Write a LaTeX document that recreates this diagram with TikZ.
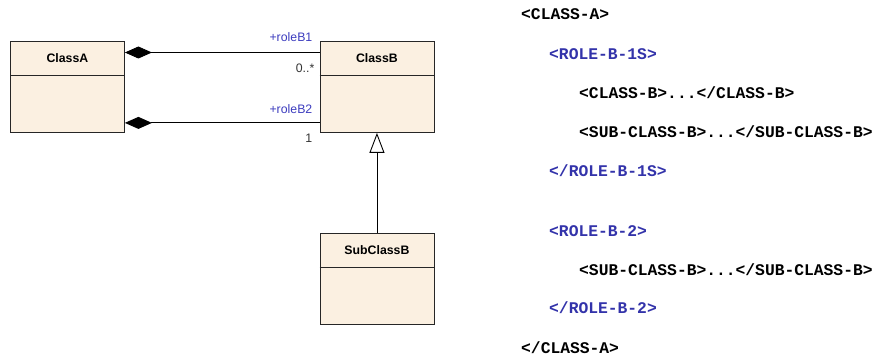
\documentclass[tikz,border=0pt]{standalone}
\usepackage{fontspec}
\setmainfont{Liberation Sans}
\newfontfamily\xmlfont{Liberation Mono}
\usepackage{xcolor}
\usepackage{tikz}
\usetikzlibrary{arrows.meta, positioning}

\definecolor{classfill}{RGB}{251,240,225}
\definecolor{roleblue}{RGB}{60,60,190}
\definecolor{tagblue}{RGB}{51,51,170}

\begin{document}
\begin{tikzpicture}[x=1pt, y=-1pt,
    umlclass/.style={rectangle, draw=black!85, fill=classfill, line width=0.9pt, minimum width=114pt, minimum height=90.5pt, inner sep=0pt},
    classname/.style={font=\fontsize{12.3}{14}\selectfont\bfseries},
    role/.style={font=\fontsize{12.3}{14}\selectfont, text=roleblue, inner sep=0pt},
    mult/.style={font=\fontsize{12.3}{14}\selectfont, text=black!80, inner sep=0pt},
    tag/.style={font=\fontsize{16.3}{18}\selectfont\xmlfont\bfseries, anchor=base west, inner sep=0pt},
    comp/.style={{Diamond[length=27pt, width=12pt]}-, line width=0.9pt},
    inherit/.style={-{Triangle[open, length=20pt, width=15pt]}, line width=0.9pt}]
    \useasboundingbox (0,0) rectangle (875,358);

    % Classes
    \node (classA) [umlclass, anchor=north west] at (10,41.5) {};
    \node (classB) [umlclass, anchor=north west] at (319.5,41.5) {};
    \node (subB) [umlclass, anchor=north west] at (319.5,233) {};

    \node [classname] at ([yshift=-17pt]classA.north) {ClassA};
    \node [classname] at ([yshift=-17pt]classB.north) {ClassB};
    \node [classname] at ([yshift=-17pt]subB.north) {SubClassB};

    \draw[line width=0.9pt, black!85] ([yshift=-34pt]classA.north west) -- ([yshift=-34pt]classA.north east);
    \draw[line width=0.9pt, black!85] ([yshift=-34pt]classB.north west) -- ([yshift=-34pt]classB.north east);
    \draw[line width=0.9pt, black!85] ([yshift=-34pt]subB.north west) -- ([yshift=-34pt]subB.north east);

    % Associations
    \draw[comp] ([yshift=-11pt]classA.north east) -- ([yshift=-11pt]classB.north west);
    \draw[comp] ([yshift=10pt]classA.south east) -- ([yshift=10pt]classB.south west);
    \node (roleB1) [role, anchor=east] at ([xshift=-7pt, yshift=4.5pt]classB.north west) {+roleB1};
    \node (multB1) [mult, anchor=east] at ([xshift=-5pt, yshift=-27pt]classB.north west) {0..*};
    \node (roleB2) [role, anchor=east] at ([xshift=-7pt, yshift=24pt]classB.south west) {+roleB2};
    \node (multB2) [mult, anchor=east] at ([xshift=-7pt, yshift=-5pt]classB.south west) {1};

    % Generalization
    \draw[inherit] (subB.north) -- (classB.south);

    % XML
    \node (t1) [tag] at (521,19.5) {<CLASS-A>};
    \node (t2) [tag, text=tagblue] at (549,59.5) {<ROLE-B-1S>};
    \node (t3) [tag] at (579,98.5) {<CLASS-B>...</CLASS-B>};
    \node (t4) [tag] at (579,137.5) {<SUB-CLASS-B>...</SUB-CLASS-B>};
    \node (t5) [tag, text=tagblue] at (549,176.5) {</ROLE-B-1S>};
    \node (t6) [tag, text=tagblue] at (549,236.5) {<ROLE-B-2>};
    \node (t7) [tag] at (579,275.5) {<SUB-CLASS-B>...</SUB-CLASS-B>};
    \node (t8) [tag, text=tagblue] at (549,313.5) {</ROLE-B-2>};
    \node (t9) [tag] at (521,353.5) {</CLASS-A>};

\end{tikzpicture}
\end{document}
